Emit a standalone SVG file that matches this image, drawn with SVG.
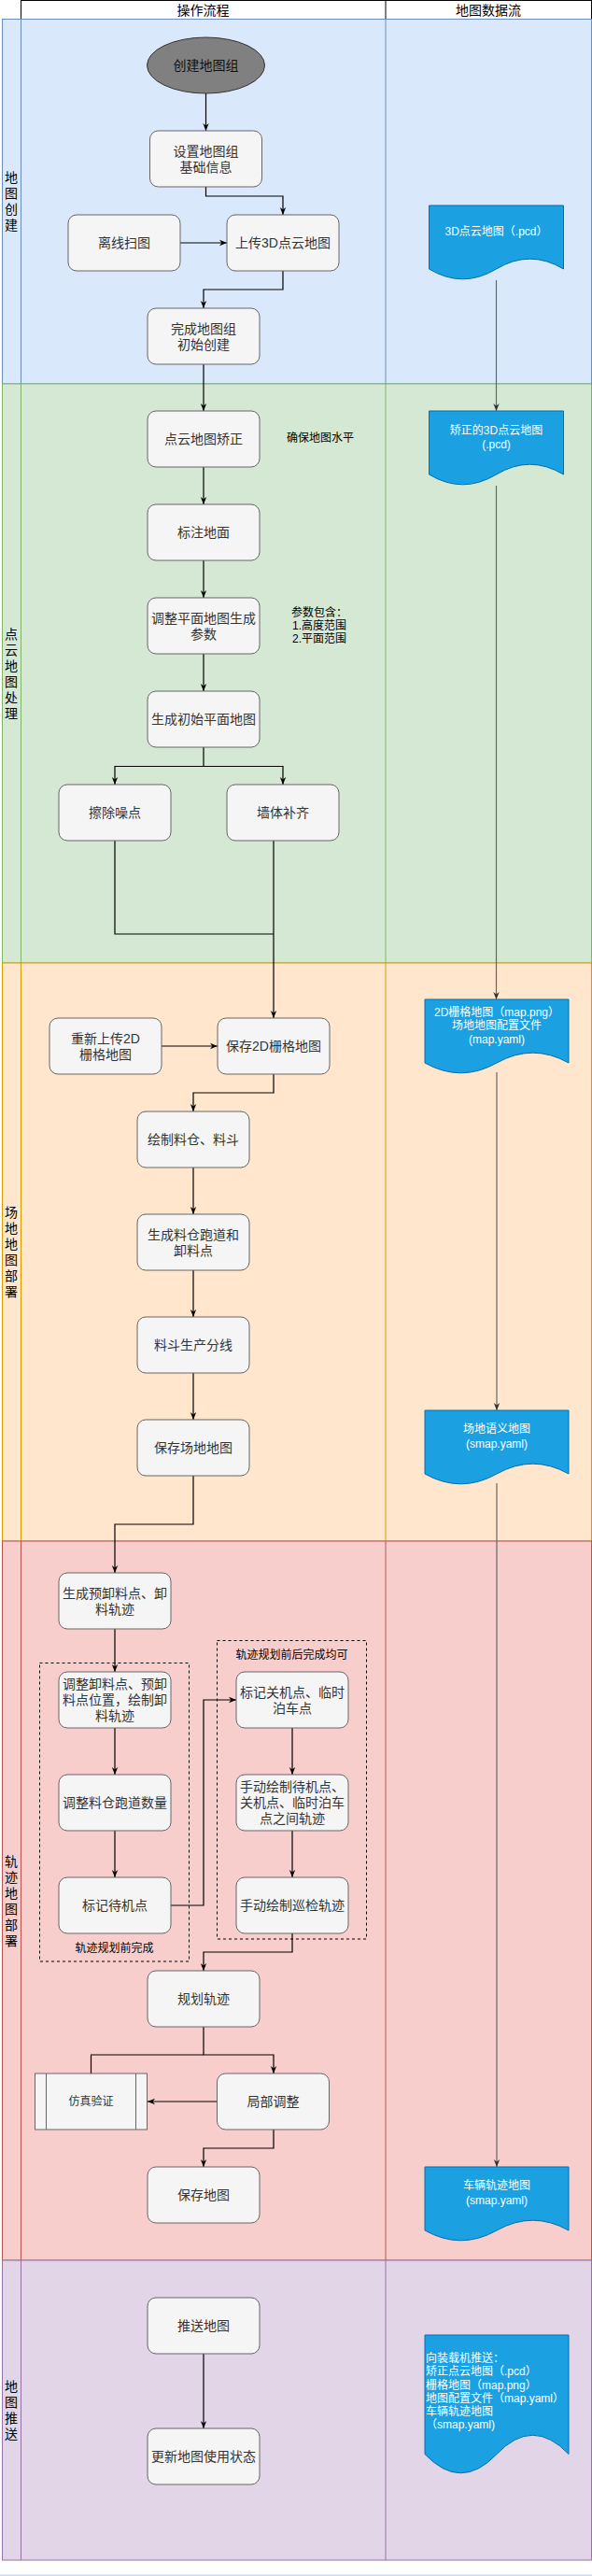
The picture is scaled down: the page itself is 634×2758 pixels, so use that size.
<svg xmlns="http://www.w3.org/2000/svg" width="634" height="2758" viewBox="0 0 634 2758">
<style>
text{font-family:"Liberation Sans","Noto Sans CJK SC",sans-serif;dominant-baseline:central}
.box{fill:#f5f5f5;stroke:#666666;stroke-width:1}
.t14{font-size:14px;fill:#333333;text-anchor:middle}
.t12{font-size:12px;fill:#333333;text-anchor:middle}
.ann{font-size:12px;fill:#000000;text-anchor:middle}
.hdr{font-size:14px;fill:#000000;text-anchor:middle}
.lbl{font-size:14px;fill:#000000;text-anchor:middle}
.doc{fill:#1ba1e2;stroke:#006eaf;stroke-width:1}
.dt{font-size:12px;fill:#ffffff;text-anchor:middle}
.dtl{font-size:12px;fill:#ffffff;text-anchor:start}
.grp{fill:none;stroke:#000000;stroke-width:1;stroke-dasharray:3 3}
.c{fill:none;stroke:#000000;stroke-width:1.2}
.ca{fill:none;stroke:#000000;stroke-width:1.2;marker-end:url(#arr)}
.cg{fill:none;stroke:#666666;stroke-width:1.2;marker-end:url(#arrg)}
</style>
<defs>
<marker id="arr" viewBox="0 0 10 10" refX="10" refY="5" markerWidth="8" markerHeight="8" markerUnits="userSpaceOnUse" orient="auto"><path d="M0,1 L10,5 L0,9 L3,5 z" fill="#000000"/></marker>
<marker id="arrg" viewBox="0 0 10 10" refX="10" refY="5" markerWidth="8" markerHeight="8" markerUnits="userSpaceOnUse" orient="auto"><path d="M0,1 L10,5 L0,9 L3,5 z" fill="#333333"/></marker>
</defs>
<rect x="0" y="0" width="634" height="2758" fill="#ffffff"/>

<g id="header">
<rect x="22.5" y="0.5" width="611" height="20" fill="#ffffff" stroke="#000000"/>
<line x1="413" y1="0.5" x2="413" y2="20.5" stroke="#000000"/>
<text class="hdr" x="217.5" y="11">操作流程</text>
<text class="hdr" x="523" y="11">地图数据流</text>
</g>

<g id="lane-create">
<rect x="2.5" y="20.5" width="631" height="390.5" fill="#dae8fc" stroke="#6c8ebf"/>
<line x1="22.5" y1="20.5" x2="22.5" y2="411" stroke="#6c8ebf"/>
<line x1="413" y1="20.5" x2="413" y2="411" stroke="#6c8ebf"/>
<text class="lbl" x="12" y="190"><tspan x="12" y="190">地</tspan><tspan x="12" y="207">图</tspan><tspan x="12" y="224">创</tspan><tspan x="12" y="241">建</tspan></text>
</g>
<g id="lane-process">
<rect x="2.5" y="411" width="631" height="620" fill="#d5e8d4" stroke="#82b366"/>
<line x1="22.5" y1="411" x2="22.5" y2="1031" stroke="#82b366"/>
<line x1="413" y1="411" x2="413" y2="1031" stroke="#82b366"/>
<text class="lbl" x="12" y="678.5"><tspan x="12" y="678.5">点</tspan><tspan x="12" y="695.5">云</tspan><tspan x="12" y="712.5">地</tspan><tspan x="12" y="729.5">图</tspan><tspan x="12" y="746.5">处</tspan><tspan x="12" y="763.5">理</tspan></text>
</g>
<g id="lane-site">
<rect x="2.5" y="1031" width="631" height="619" fill="#ffe6cc" stroke="#d79b00"/>
<line x1="22.5" y1="1031" x2="22.5" y2="1650" stroke="#d79b00"/>
<line x1="413" y1="1031" x2="413" y2="1650" stroke="#d79b00"/>
<text class="lbl" x="12" y="1298"><tspan x="12" y="1298">场</tspan><tspan x="12" y="1315">地</tspan><tspan x="12" y="1332">地</tspan><tspan x="12" y="1349">图</tspan><tspan x="12" y="1366">部</tspan><tspan x="12" y="1383">署</tspan></text>
</g>
<g id="lane-track">
<rect x="2.5" y="1650" width="631" height="770" fill="#f8cecc" stroke="#b85450"/>
<line x1="22.5" y1="1650" x2="22.5" y2="2420" stroke="#b85450"/>
<line x1="413" y1="1650" x2="413" y2="2420" stroke="#b85450"/>
<text class="lbl" x="12" y="1992.5"><tspan x="12" y="1992.5">轨</tspan><tspan x="12" y="2009.5">迹</tspan><tspan x="12" y="2026.5">地</tspan><tspan x="12" y="2043.5">图</tspan><tspan x="12" y="2060.5">部</tspan><tspan x="12" y="2077.5">署</tspan></text>
</g>
<g id="lane-push">
<rect x="2.5" y="2420" width="631" height="321" fill="#e1d5e7" stroke="#9673a6"/>
<line x1="22.5" y1="2420" x2="22.5" y2="2741" stroke="#9673a6"/>
<line x1="413" y1="2420" x2="413" y2="2741" stroke="#9673a6"/>
<text class="lbl" x="12" y="2555"><tspan x="12" y="2555">地</tspan><tspan x="12" y="2572">图</tspan><tspan x="12" y="2589">推</tspan><tspan x="12" y="2606">送</tspan></text>
</g>
<rect x="0" y="2756.5" width="634" height="1.5" fill="#c9daf8"/>

<g id="groups">
<rect class="grp" x="42.5" y="1780.5" width="160" height="319.5"/>
<text class="ann" x="122.5" y="2086">轨迹规划前完成</text>
<rect class="grp" x="232.5" y="1756.5" width="160" height="319.5"/>
<text class="ann" x="312.5" y="1772">轨迹规划前后完成均可</text>
</g>

<g id="connectors">
<path class="ca" d="M220.5,100 V140"/>
<path class="ca" d="M220.5,200 V210 H303 V230"/>
<path class="ca" d="M193,260 H243"/>
<path class="ca" d="M303,290 V310 H218 V330"/>
<path class="ca" d="M218,390 V440"/>
<path class="ca" d="M218,500 V540"/>
<path class="ca" d="M218,600 V640"/>
<path class="ca" d="M218,700 V740"/>
<path class="ca" d="M218,800 V820.5 H123 V840"/>
<path class="ca" d="M218,820.5 H303 V840"/>
<path class="c" d="M123,900 V1000 H293"/>
<path class="ca" d="M293,900 V1090"/>
<path class="ca" d="M173,1120 H233"/>
<path class="ca" d="M293,1150 V1170 H207 V1190"/>
<path class="ca" d="M207,1250 V1300"/>
<path class="ca" d="M207,1360 V1410"/>
<path class="ca" d="M207,1470 V1520"/>
<path class="ca" d="M207,1580 V1632 H123 V1684"/>
<path class="ca" d="M123,1744 V1790"/>
<path class="ca" d="M123,1850 V1900"/>
<path class="ca" d="M123,1960 V2010"/>
<path class="ca" d="M183,2040 H218 V1820 H253"/>
<path class="ca" d="M313,1850 V1900"/>
<path class="ca" d="M313,1960 V2010"/>
<path class="ca" d="M313,2070 V2090 H218 V2110"/>
<path class="ca" d="M218,2170 V2200 H293 V2220"/>
<path class="c" d="M218,2200 H97.5 V2220"/>
<path class="ca" d="M232.5,2250 H158"/>
<path class="ca" d="M293,2280 V2300 H218 V2320"/>
<path class="ca" d="M218,2520 V2600"/>
<path class="cg" d="M531.5,300 V440"/>
<path class="cg" d="M531.5,520 V1070"/>
<path class="cg" d="M532,1148 V1510"/>
<path class="cg" d="M532,1588 V2320"/>
</g>

<g id="n-start"><ellipse cx="220.5" cy="70" rx="63" ry="30" fill="#808080" stroke="#333333"/><text class="t14" x="220.5" y="70" style="fill:#111111">创建地图组</text></g>
<g id="n-setinfo"><rect class="box" x="160.5" y="140" width="120" height="60" rx="9"/><text class="t14" x="220.5" y="161.5">设置地图组</text><text class="t14" x="220.5" y="178.5">基础信息</text></g>
<g id="n-scan"><rect class="box" x="73" y="230" width="120" height="60" rx="9"/><text class="t14" x="133" y="260">离线扫图</text></g>
<g id="n-upload3d"><rect class="box" x="243" y="230" width="120" height="60" rx="9"/><text class="t14" x="303" y="260">上传3D点云地图</text></g>
<g id="n-finish"><rect class="box" x="158" y="330" width="120" height="60" rx="9"/><text class="t14" x="218" y="351.5">完成地图组</text><text class="t14" x="218" y="368.5">初始创建</text></g>

<g id="n-correct"><rect class="box" x="158" y="440" width="120" height="60" rx="9"/><text class="t14" x="218" y="470">点云地图矫正</text></g>
<text class="ann" x="343" y="469">确保地图水平</text>
<g id="n-ground"><rect class="box" x="158" y="540" width="120" height="60" rx="9"/><text class="t14" x="218" y="570">标注地面</text></g>
<g id="n-params"><rect class="box" x="158" y="640" width="120" height="60" rx="9"/><text class="t14" x="218" y="661.5">调整平面地图生成</text><text class="t14" x="218" y="678.5">参数</text></g>
<text class="ann" x="342" y="656">参数包含：</text>
<text class="ann" x="342" y="670">1.高度范围</text>
<text class="ann" x="342" y="684">2.平面范围</text>
<g id="n-gen2d"><rect class="box" x="158" y="740" width="120" height="60" rx="9"/><text class="t14" x="218" y="770">生成初始平面地图</text></g>
<g id="n-denoise"><rect class="box" x="63" y="840" width="120" height="60" rx="9"/><text class="t14" x="123" y="870">擦除噪点</text></g>
<g id="n-wall"><rect class="box" x="243" y="840" width="120" height="60" rx="9"/><text class="t14" x="303" y="870">墙体补齐</text></g>

<g id="n-reupload"><rect class="box" x="53" y="1090" width="120" height="60" rx="9"/><text class="t14" x="113" y="1111.5">重新上传2D</text><text class="t14" x="113" y="1128.5">栅格地图</text></g>
<g id="n-save2d"><rect class="box" x="233" y="1090" width="120" height="60" rx="9"/><text class="t14" x="293" y="1120">保存2D栅格地图</text></g>
<g id="n-drawbin"><rect class="box" x="147" y="1190" width="120" height="60" rx="9"/><text class="t14" x="207" y="1220">绘制料仓、料斗</text></g>
<g id="n-runway"><rect class="box" x="147" y="1300" width="120" height="60" rx="9"/><text class="t14" x="207" y="1321.5">生成料仓跑道和</text><text class="t14" x="207" y="1338.5">卸料点</text></g>
<g id="n-line"><rect class="box" x="147" y="1410" width="120" height="60" rx="9"/><text class="t14" x="207" y="1440">料斗生产分线</text></g>
<g id="n-savesite"><rect class="box" x="147" y="1520" width="120" height="60" rx="9"/><text class="t14" x="207" y="1550">保存场地地图</text></g>

<g id="n-pretrack"><rect class="box" x="63" y="1684" width="120" height="60" rx="9"/><text class="t14" x="123" y="1705.5">生成预卸料点、卸</text><text class="t14" x="123" y="1722.5">料轨迹</text></g>
<g id="n-adjust"><rect class="box" x="63" y="1790" width="120" height="60" rx="9"/><text class="t14" x="123" y="1803">调整卸料点、预卸</text><text class="t14" x="123" y="1820">料点位置，绘制卸</text><text class="t14" x="123" y="1837">料轨迹</text></g>
<g id="n-runwaynum"><rect class="box" x="63" y="1900" width="120" height="60" rx="9"/><text class="t14" x="123" y="1930">调整料仓跑道数量</text></g>
<g id="n-standby"><rect class="box" x="63" y="2010" width="120" height="60" rx="9"/><text class="t14" x="123" y="2040">标记待机点</text></g>
<g id="n-shutdown"><rect class="box" x="253" y="1790" width="120" height="60" rx="9"/><text class="t14" x="313" y="1811.5">标记关机点、临时</text><text class="t14" x="313" y="1828.5">泊车点</text></g>
<g id="n-drawbetween"><rect class="box" x="253" y="1900" width="120" height="60" rx="9"/><text class="t14" x="313" y="1913">手动绘制待机点、</text><text class="t14" x="313" y="1930">关机点、临时泊车</text><text class="t14" x="313" y="1947">点之间轨迹</text></g>
<g id="n-patrol"><rect class="box" x="253" y="2010" width="120" height="60" rx="9"/><text class="t14" x="313" y="2040">手动绘制巡检轨迹</text></g>
<g id="n-plan"><rect class="box" x="158" y="2110" width="120" height="60" rx="9"/><text class="t14" x="218" y="2140">规划轨迹</text></g>
<g id="n-sim"><rect class="box" x="37.5" y="2220" width="120" height="60"/><line x1="49.5" y1="2220" x2="49.5" y2="2280" stroke="#666666"/><line x1="145.5" y1="2220" x2="145.5" y2="2280" stroke="#666666"/><text class="t12" x="97.5" y="2250">仿真验证</text></g>
<g id="n-local"><rect class="box" x="232.5" y="2220" width="120" height="60" rx="9"/><text class="t14" x="292.5" y="2250">局部调整</text></g>
<g id="n-savemap"><rect class="box" x="158" y="2320" width="120" height="60" rx="9"/><text class="t14" x="218" y="2350">保存地图</text></g>

<g id="n-push"><rect class="box" x="158" y="2460" width="120" height="60" rx="9"/><text class="t14" x="218" y="2490">推送地图</text></g>
<g id="n-update"><rect class="box" x="158" y="2600" width="120" height="60" rx="9"/><text class="t14" x="218" y="2630">更新地图使用状态</text></g>

<g id="d-pcd"><path class="doc" d="M459.5,220 H603.5 V288 Q567.5,266.4 531.5,288 Q495.5,309.6 459.5,288 Z"/><text class="dt" x="531.5" y="248">3D点云地图（.pcd）</text></g>
<g id="d-corrected"><path class="doc" d="M459.5,440 H603.5 V508 Q567.5,486.4 531.5,508 Q495.5,529.6 459.5,508 Z"/><text class="dt" x="531.5" y="461">矫正的3D点云地图</text><text class="dt" x="531.5" y="476">(.pcd)</text></g>
<g id="d-grid"><path class="doc" d="M455,1070 H609 V1138 Q570.5,1116.4 532,1138 Q493.5,1159.6 455,1138 Z"/><text class="dt" x="532" y="1084">2D栅格地图（map.png）</text><text class="dt" x="532" y="1098">场地地图配置文件</text><text class="dt" x="532" y="1112.5">(map.yaml)</text></g>
<g id="d-semantic"><path class="doc" d="M455,1510 H609 V1578 Q570.5,1556.4 532,1578 Q493.5,1599.6 455,1578 Z"/><text class="dt" x="532" y="1530">场地语义地图</text><text class="dt" x="532" y="1546">(smap.yaml)</text></g>
<g id="d-track"><path class="doc" d="M455,2320 H609 V2388 Q570.5,2366.4 532,2388 Q493.5,2409.6 455,2388 Z"/><text class="dt" x="532" y="2340">车辆轨迹地图</text><text class="dt" x="532" y="2356">(smap.yaml)</text></g>
<g id="d-push"><path class="doc" d="M455,2500 H609 V2627.5 Q570.5,2587 532,2627.5 Q493.5,2668 455,2627.5 Z"/>
<text class="dtl" x="456" y="2524.5">向装载机推送：</text>
<text class="dtl" x="456" y="2539">矫正点云地图（.pcd）</text>
<text class="dtl" x="456" y="2553.5">栅格地图（map.png）</text>
<text class="dtl" x="456" y="2567.5">地图配置文件（map.yaml）</text>
<text class="dtl" x="456" y="2582">车辆轨迹地图</text>
<text class="dtl" x="456" y="2596">（smap.yaml)</text>
</g>
</svg>
